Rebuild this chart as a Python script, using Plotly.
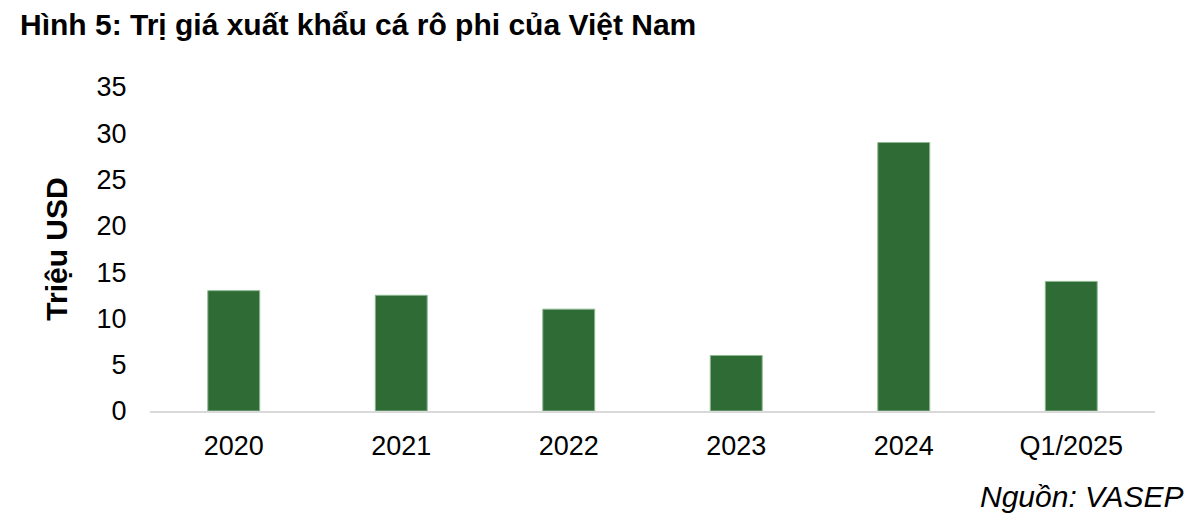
import plotly.graph_objects as go

# Data
categories = ["2020", "2021", "2022", "2023", "2024", "Q1/2025"]
export_values = [13, 12.5, 11, 6, 29, 14]
y_ticks = [0, 5, 10, 15, 20, 25, 30, 35]

FONT = "Liberation Sans, Arial, sans-serif"
BAR_COLOR = "#2F6B35"

fig = go.Figure()

fig.add_trace(
    go.Bar(
        x=categories,
        y=export_values,
        marker={"color": BAR_COLOR, "line": {"color": "#8FB892", "width": 1}},
        showlegend=False,
    )
)

fig.update_layout(
    width=1200,
    height=523,
    paper_bgcolor="white",
    plot_bgcolor="white",
    font={"family": FONT, "color": "#000000", "size": 27},
    margin={"l": 142, "r": 53, "t": 79, "b": 120},
    bargap=0.69,
    title={
        "text": "<b>Hình 5: Trị giá xuất khẩu cá rô phi của Việt Nam</b>",
        "x": 0.01,
        "xanchor": "left",
        "y": 0.969,
        "yanchor": "middle",
        "font": {"size": 30, "family": FONT, "color": "#000000"},
    },
    annotations=[
        {
            "text": "<i>Nguồn: VASEP</i>",
            "xref": "paper",
            "yref": "paper",
            "x": 1.03,
            "y": -0.265,
            "xanchor": "right",
            "yanchor": "middle",
            "showarrow": False,
            "font": {"size": 30, "family": FONT, "color": "#000000"},
        }
    ],
)

fig.update_xaxes(
    showgrid=False,
    showline=True,
    linecolor="#D9D9D9",
    linewidth=2,
    ticks="outside",
    ticklen=10,
    tickcolor="rgba(0,0,0,0)",
    tickfont={"size": 27},
)

fig.update_yaxes(
    range=[0, 35],
    tickvals=y_ticks,
    showgrid=False,
    zeroline=False,
    showline=False,
    ticks="outside",
    ticklen=17,
    tickcolor="rgba(0,0,0,0)",
    tickfont={"size": 27},
    title={
        "text": "<b>Triệu USD</b>",
        "font": {"size": 30, "family": FONT},
        "standoff": 20,
    },
)

fig.write_html("out.html")
